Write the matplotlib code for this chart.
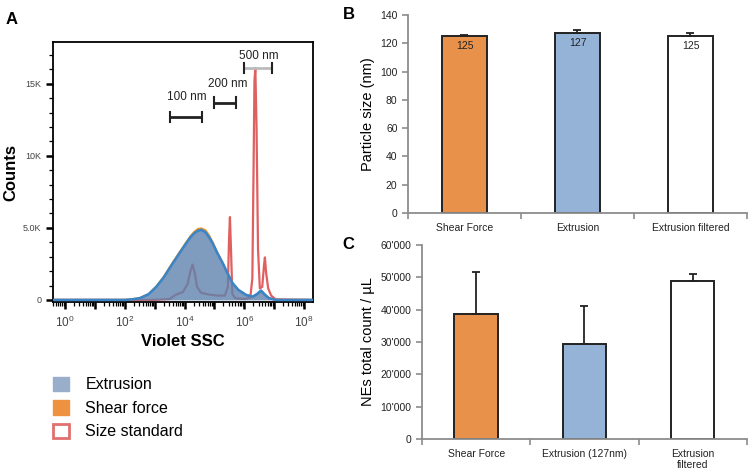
#	plot.py - nanoemulsion size / count figure (panels A, B, C)

import matplotlib
matplotlib.use('Agg')
import matplotlib.pyplot as plt
from matplotlib.patches import Patch
import numpy as np

plt.rcParams['font.family'] = ['Liberation Sans', 'DejaVu Sans']
plt.rcParams['mathtext.fontset'] = 'custom'
plt.rcParams['mathtext.rm'] = 'Liberation Sans'

# Panel A data: histogram outlines, x in log10(Violet SSC)

extrusion_x = [-0.4, 2.0, 2.2, 2.5, 2.8, 3.06, 3.3, 3.61, 3.85, 4.06, 4.2, 4.33, 4.45, 4.56,
			4.7, 4.82, 4.94, 5.1, 5.28, 5.45, 5.61, 5.8, 6.06, 6.28, 6.42, 6.56, 6.7, 6.83,
			7.06, 8.3]
extrusion_counts = [0, 0, 30, 120, 400, 920, 1550, 2550, 3300, 3940, 4350, 4630, 4800, 4860,
			4700, 4350, 3940, 3250, 2550, 1800, 1160, 700, 350, 230, 400, 650, 350, 120,
			0, 0]
shear_counts = [0, 0, 30, 120, 400, 930, 1580, 2600, 3350, 4000, 4420, 4730, 4920, 4960,
			4830, 4480, 4000, 3250, 2550, 1790, 1150, 690, 340, 220, 380, 620, 330, 110,
			0, 0]

standard_x = [-0.4, 3.0, 3.5, 3.7, 3.95, 4.1, 4.2, 4.27, 4.34, 4.42, 4.55, 4.8, 5.1, 5.35,
			5.45, 5.49, 5.52, 5.56, 5.6, 5.7, 6.0, 6.2, 6.27, 6.31, 6.34, 6.37, 6.41, 6.46,
			6.52, 6.6, 6.66, 6.69, 6.73, 6.8, 6.9, 7.05, 8.3]
standard_counts = [0, 0, 60, 350, 550, 1100, 2000, 2450, 1900, 900, 500, 380, 300, 300,
			900, 4200, 5750, 3200, 400, 120, 60, 150, 1500, 9000, 15200, 16100, 12000, 3500,
			800, 900, 2400, 2950, 1900, 800, 300, 40, 0]

scale_labels = ['100 nm', '200 nm', '500 nm']
scale_ranges = [(3.53, 4.57), (5.0, 5.73), (6.0, 6.93)]
scale_levels = [12700, 13700, 16100]

legend_labels = ['Extrusion', 'Shear force', 'Size standard']

# Panel B / C data

size_categories = ['Shear Force', 'Extrusion', 'Extrusion filtered']
size_nm = [125, 127, 125]
size_err = [1, 2.5, 2.5]

count_categories = ['Shear Force', 'Extrusion (127nm)', 'Extrusion\nfiltered']
count_per_ul = [38500, 29500, 49000]
count_err = [13000, 11500, 2000]

bar_colors = ['#E8914A', '#95B3D7', 'white']


def style_bar_axis(ax):
	for s in ['top', 'right']:
		ax.spines[s].set_visible(False)
	for s in ['left', 'bottom']:
		ax.spines[s].set_color('#8C8C8C')
		ax.spines[s].set_linewidth(1.3)
	ax.set_xlim(-0.5, 2.5)
	ax.set_xticks([0, 1, 2])
	ax.set_xticks([-0.5, 0.5, 1.5, 2.5], minor=True)
	ax.tick_params(axis='x', which='major', length=0, labelsize=7.5, pad=7, colors='#222222')
	ax.tick_params(axis='x', which='minor', length=4, color='#8C8C8C', width=1.2)
	ax.tick_params(axis='y', length=4, color='#8C8C8C', width=1.2, labelsize=7.5,
				labelcolor='#222222')


def plot_histogram(ax):

#	Size standard outline under the sample fills

	ax.plot(standard_x, standard_counts, color='#E06060', lw=1.6, zorder=1)
	ax.fill_between(extrusion_x, extrusion_counts, shear_counts, color='#EE9A40', lw=0, zorder=2)
	ax.plot(extrusion_x, shear_counts, color='#E8962E', lw=1.6, zorder=2)
	ax.fill_between(extrusion_x, extrusion_counts, color='#5F82AD', alpha=0.8, lw=0, zorder=3)
	ax.plot(extrusion_x, extrusion_counts, color='#3A84C8', lw=1.8, zorder=4)

#	Size scale bars

	label_pos = [(4.07, 14100), (5.45, 15000), (6.47, 16900)]
	bar_cols = ['#222222', '#222222', '#BBBBBB']
	for lab, (x0, x1), y, (tx, ty), c in zip(scale_labels, scale_ranges, scale_levels,
										label_pos, bar_cols):
		ax.plot([x0, x1], [y, y], color=c, lw=2, solid_capstyle='butt', zorder=5)
		ax.plot([x0, x0], [y - 350, y + 350], color='#222222', lw=1.5, zorder=5)
		ax.plot([x1, x1], [y - 350, y + 350], color='#222222', lw=1.5, zorder=5)
		ax.text(tx, ty, lab, ha='center', va='center', fontsize=8.5, color='#222222', zorder=6)

	ax.set_xlim(-0.4, 8.3)
	ax.set_ylim(-150, 17900)
	ax.set_xticks(range(0, 9))
	ax.set_xticklabels([r'$10^{%d}$' % i if i % 2 == 0 else '' for i in range(0, 9)])
	minor = [np.log10(k) + d for d in range(-1, 9) for k in range(2, 10)]
	ax.set_xticks([m for m in minor if -0.4 < m < 8.3], minor=True)
	ax.set_yticks([0, 5000, 10000, 15000])
	ax.set_yticklabels(['0', '5.0K', '10K', '15K'])
	ax.set_yticks(range(1000, 18000, 1000), minor=True)
	ax.tick_params(axis='both', which='major', length=5, width=1.8, labelsize=6.5,
				labelcolor='#444444')
	ax.tick_params(axis='x', which='major', labelsize=8.5, pad=4)
	ax.tick_params(axis='both', which='minor', length=3, width=0.9)
	for s in ax.spines.values():
		s.set_linewidth(1.3)
	ax.set_ylabel('Counts', fontsize=12, fontweight='bold', labelpad=3)
	ax.set_xlabel('Violet SSC', fontsize=12, fontweight='bold', labelpad=3)


def main():

	fig = plt.figure(figsize=(7.53, 4.72), dpi=100)

#	Panel A

	axA = fig.add_axes([0.0704, 0.360, 0.3453, 0.551])
	plot_histogram(axA)
	handles = [Patch(facecolor='#98AECA', edgecolor='#98AECA'),
			Patch(facecolor='#EE9240', edgecolor='#EE9240'),
			Patch(facecolor='white', edgecolor='#E07070', lw=2)]
	fig.legend(handles, legend_labels, loc='upper left', bbox_to_anchor=(0.071, 0.202),
			frameon=False, fontsize=11.5, handlelength=1.0, handleheight=1.0,
			handletextpad=1.0, labelspacing=0.5, borderpad=0, borderaxespad=0)

#	Panel B

	axB = fig.add_axes([0.5418, 0.549, 0.4502, 0.419])
	x = np.arange(len(size_categories))
	axB.bar(x, size_nm, width=0.4, color=bar_colors, edgecolor='#222222', lw=1.4,
			yerr=[[0] * 3, size_err], capsize=3,
			error_kw=dict(ecolor='#222222', elinewidth=1.3, capthick=1.3))
	for i, v in enumerate(size_nm):
		axB.text(i, v - 7, str(v), ha='center', va='center', fontsize=7.5, color='#222222')
	axB.set_ylim(0, 140)
	axB.set_yticks(range(0, 141, 20))
	axB.set_xticks(x)
	axB.set_xticklabels(size_categories)
	style_bar_axis(axB)
	axB.set_ylabel('Particle size (nm)', fontsize=10.5, labelpad=4)

#	Panel C

	axC = fig.add_axes([0.5604, 0.070, 0.4316, 0.411])
	axC.bar(x, count_per_ul, width=0.4, color=bar_colors, edgecolor='#222222', lw=1.4,
			yerr=[[0] * 3, count_err], capsize=3,
			error_kw=dict(ecolor='#222222', elinewidth=1.3, capthick=1.3))
	axC.set_ylim(0, 60000)
	ticks = range(0, 60001, 10000)
	axC.set_yticks(ticks)
	axC.set_yticklabels([f'{t:,}'.replace(',', "'") for t in ticks])
	axC.set_xticks(x)
	axC.set_xticklabels(count_categories)
	style_bar_axis(axC)
	axC.set_ylabel('NEs total count / µL', fontsize=10.5, labelpad=4)

#	Panel letters

	fig.text(0.008, 0.975, 'A', fontsize=12, fontweight='bold', va='top')
	fig.text(0.455, 0.985, 'B', fontsize=12, fontweight='bold', va='top')
	fig.text(0.455, 0.498, 'C', fontsize=12, fontweight='bold', va='top')

	fig.savefig('out.png', dpi=100)

if __name__ == '__main__': main()
